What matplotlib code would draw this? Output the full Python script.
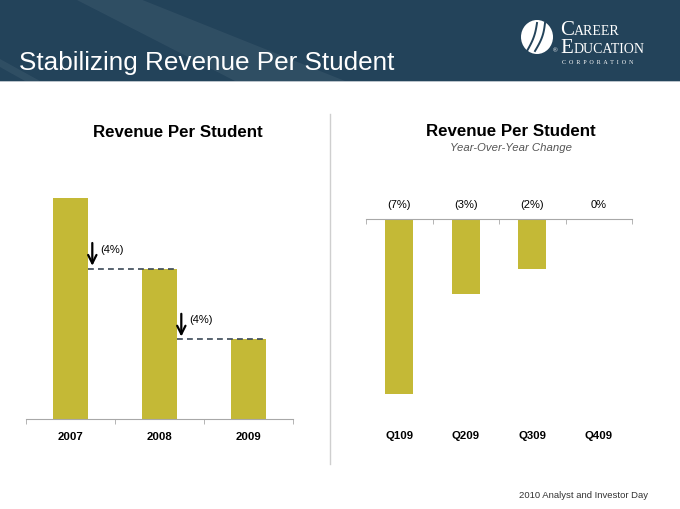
import matplotlib
matplotlib.use("Agg")
import matplotlib.pyplot as plt
from matplotlib.patches import Rectangle, Ellipse, Polygon
import numpy as np

plt.rcParams['font.family'] = ['Liberation Sans', 'DejaVu Sans']

# ---------------- data ----------------
years = ["2007", "2008", "2009"]
rps_index = [100, 96, 92]           # revenue per student (index, 2007 = 100)
rps_base = 87.5                      # axis baseline (chart is not zero-based)

quarters = ["Q109", "Q209", "Q309", "Q409"]
yoy_change = [-7, -3, -2, 0]         # year-over-year change, %

main_title = "Stabilizing Revenue Per Student"
left_title = "Revenue Per Student"
right_title = "Revenue Per Student"
right_subtitle = "Year-Over-Year Change"
footer = "2010 Analyst and Investor Day"

# ---------------- style ----------------
W, H = 680, 510
BAR = "#c4b936"
NAVY = "#23435a"
fx = lambda x: x / W
fy = lambda y: 1 - y / H

fig = plt.figure(figsize=(6.8, 5.1), dpi=100)
fig.patch.set_facecolor("white")

# header band
fig.patches.append(Rectangle((0, fy(82)), 1, 82 / H, transform=fig.transFigure,
                             facecolor=NAVY, edgecolor="none", zorder=0))
fig.patches.append(Polygon([(fx(75), fy(0)), (fx(140), fy(0)), (fx(345), fy(82)), (fx(235), fy(82))],
                           closed=True, transform=fig.transFigure,
                           facecolor="white", alpha=0.06, edgecolor="none", zorder=0))
fig.patches.append(Polygon([(fx(0), fy(60)), (fx(0), fy(68)), (fx(25), fy(82)), (fx(40), fy(82))],
                           closed=True, transform=fig.transFigure,
                           facecolor="white", alpha=0.06, edgecolor="none", zorder=0))
fig.patches.append(Rectangle((0, fy(83)), 1, 1.5 / H, transform=fig.transFigure,
                             facecolor="#b9c2ca", edgecolor="none", zorder=0))
fig.text(fx(19), fy(70), main_title, color="white", fontsize=18.8, ha="left", va="baseline")

# logo
fig.patches.append(Ellipse((fx(537), fy(38)), 32 / W, 34 / H, transform=fig.transFigure,
                           facecolor="white", edgecolor="none", zorder=1))
t = np.linspace(0, 1, 30)
for dx, bend in [(-5, 6), (3, 7)]:
    xs = 537 + dx - 5 + 10 * t + bend * np.sin(np.pi * t) * 0.3
    ys = 52 - 28 * t
    fig.lines.append(plt.Line2D(fx(xs), fy(ys), transform=fig.transFigure,
                                color=NAVY, lw=1.4, zorder=2))
fig.text(fx(553), fy(52), "®", color="white", fontsize=4.5, ha="left", va="baseline")
serif = ["Liberation Serif", "DejaVu Serif"]
fig.text(fx(560), fy(35), "C", color="white", fontsize=15, family=serif, ha="left", va="baseline")
fig.text(fx(574), fy(35), "AREER", color="white", fontsize=10, family=serif, ha="left", va="baseline")
fig.text(fx(560), fy(53), "E", color="white", fontsize=15, family=serif, ha="left", va="baseline")
fig.text(fx(574), fy(53), "DUCATION", color="white", fontsize=10, family=serif, ha="left", va="baseline")
fig.text(fx(562), fy(64), "C  O  R  P  O  R  A  T  I  O  N", color="white", fontsize=4.3,
         family=serif, ha="left", va="baseline")

# separator
fig.lines.append(plt.Line2D([fx(330), fx(330)], [fy(115), fy(465)], transform=fig.transFigure,
                            color="#cfcfcf", lw=1))

# ---------------- left chart ----------------
px_per_unit = 17.7
ax1 = fig.add_axes([fx(26), fy(420), (293 - 26) / W, 240 / H])
x1 = np.arange(len(years))
bw1 = 0.40
ax1.bar(x1, rps_index, width=bw1, bottom=0, color=BAR, zorder=2)
ax1.set_xlim(-0.5, len(years) - 0.5)
ax1.set_ylim(rps_base, rps_base + 240 / px_per_unit)
for s in ["top", "left", "right"]:
    ax1.spines[s].set_visible(False)
ax1.spines["bottom"].set_color("#a8a8a8")
ax1.set_yticks([])
ax1.set_xticks(x1)
ax1.set_xticklabels(years, fontsize=8.2, fontweight="bold")
ax1.tick_params(axis="x", which="major", length=0, pad=9)
ax1.set_xticks(np.arange(-0.5, len(years)), minor=True)
ax1.tick_params(axis="x", which="minor", length=3.5, color="#a8a8a8", direction="out")

for i in range(len(years) - 1):
    nxt = rps_index[i + 1]
    pct = (nxt - rps_index[i]) / rps_index[i] * 100
    ax1.plot([i + bw1 / 2, i + 1 + bw1 / 2], [nxt, nxt], color="#3b4856", lw=1.2,
             dashes=(3.5, 2.5), zorder=3)
    xa = i + bw1 / 2 + 0.045
    ytop = nxt + 1.6
    ax1.annotate("", xy=(xa, nxt), xytext=(xa, ytop),
                 arrowprops=dict(arrowstyle="->,head_length=0.6,head_width=0.3", color="black", lw=1.6),
                 zorder=4)
    label = f"({abs(round(pct)):.0f}%)" if pct < 0 else f"{round(pct):.0f}%"
    ax1.annotate(label, xy=(xa, ytop), xytext=(6, -6), textcoords="offset points",
                 fontsize=8, ha="left", va="center")

fig.text(fx(178), fy(133), left_title, fontsize=12.2, fontweight="bold", ha="center", va="center")

# ---------------- right chart ----------------
ax2 = fig.add_axes([fx(366), fy(420), (632 - 366) / W, 200 / H])
x2 = np.arange(len(quarters))
ax2.bar(x2, yoy_change, width=0.42, color=BAR, zorder=2)
ax2.set_xlim(-0.5, len(quarters) - 0.5)
ax2.set_ylim(-8, 0)
for s in ["bottom", "left", "right"]:
    ax2.spines[s].set_visible(False)
ax2.spines["top"].set_color("#a8a8a8")
ax2.set_yticks([])
ax2.set_xticks(x2)
ax2.set_xticklabels(quarters, fontsize=8.2, fontweight="bold")
ax2.tick_params(axis="x", which="major", length=0, pad=8)
ax2.set_xticks(np.arange(-0.5, len(quarters)), minor=True)
ax2.tick_params(axis="x", which="minor", bottom=False, top=True, length=3.5,
                color="#a8a8a8", direction="in")
for i, v in enumerate(yoy_change):
    lab = f"({abs(v)}%)" if v < 0 else f"{v}%"
    ax2.annotate(lab, xy=(i, 0), xytext=(0, 11), textcoords="offset points",
                 fontsize=8, ha="center", va="center", annotation_clip=False)

fig.text(fx(511), fy(132), right_title, fontsize=12.2, fontweight="bold", ha="center", va="center")
fig.text(fx(511), fy(148), right_subtitle, fontsize=8.2, style="italic", color="#555555",
         ha="center", va="center")

fig.text(fx(519), fy(496), footer, fontsize=6.8, color="#333333", ha="left", va="center")

fig.savefig("out.png", dpi=100)
